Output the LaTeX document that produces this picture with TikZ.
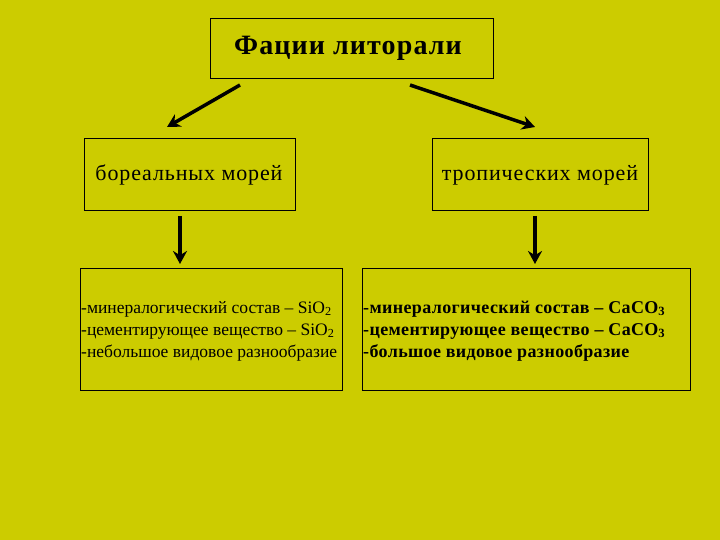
\documentclass[tikz,border=0pt]{standalone}
\usepackage{fontspec}
\setmainfont{Liberation Serif}
\newfontfamily\wideb[LetterSpace=4]{Liberation Serif}
\newfontfamily\widec[LetterSpace=2]{Liberation Serif}
\definecolor{bg}{HTML}{CCCC00}
\begin{document}
\begin{tikzpicture}[x=1pt,y=-1pt,
 box/.style={draw=black,line width=0.8pt,inner sep=0pt},
 arr/.style={line width=3.5pt,-{Stealth[length=13pt,width=14pt]}}]
\usetikzlibrary{arrows.meta}
\fill[bg] (0,0) rectangle (720,540);
\useasboundingbox (0,0) rectangle (720,540);
\node[box,minimum width=283pt,minimum height=60pt] (t) at (351.5,48) {};
\node (tt) at (348,48) {\wideb\fontsize{28}{32}\selectfont\bfseries Фации литорали};
\node[box,minimum width=211pt,minimum height=72pt] (l) at (189.5,174) {};
\node (lt) at (189,175) {\wideb\fontsize{22}{26}\selectfont бореальных морей};
\node[box,minimum width=216pt,minimum height=72pt] (r) at (540,174) {};
\node (rt) at (540,175) {\wideb\fontsize{22}{26}\selectfont тропических морей};
\node[box,minimum width=262pt,minimum height=122pt] (bl) at (211,329) {};
\node[box,minimum width=328pt,minimum height=122pt] (br) at (526,329) {};
\node[anchor=west,align=left,inner sep=0pt,font=\fontsize{17.5}{22}\selectfont] (blt) at (81,331) {-минералогический состав – SiO\textsubscript{2}\\-цементирующее вещество – SiO\textsubscript{2}\\-небольшое видовое разнообразие};
\node[anchor=west,align=left,inner sep=0pt,font=\widec\fontsize{18}{22}\selectfont\bfseries] (brt) at (363,331) {-минералогический состав – CaCO\textsubscript{3}\\-цементирующее вещество – CaCO\textsubscript{3}\\-большое видовое разнообразие};
\coordinate (a1) at (240,85); \coordinate (b1) at (167,127);
\coordinate (a2) at (410,85); \coordinate (b2) at (535,127);
\draw[arr] (a1) -- (b1);
\draw[arr] (a2) -- (b2);
\draw[arr] (180,216) -- (180,264);
\draw[arr] (535,216) -- (535,264);
\end{tikzpicture}
\end{document}
